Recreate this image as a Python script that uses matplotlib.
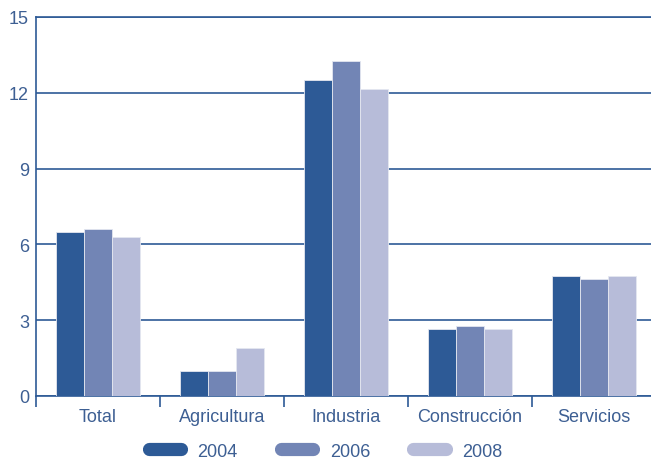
import matplotlib.pyplot as plt
import numpy as np
from matplotlib.lines import Line2D

categories = ['Total', 'Agricultura', 'Industria', 'Construcción', 'Servicios']
years = ['2004', '2006', '2008']
v2004 = [6.5, 1.0, 12.5, 2.65, 4.75]
v2006 = [6.6, 1.0, 13.25, 2.78, 4.65]
v2008 = [6.3, 1.9, 12.15, 2.67, 4.75]
colors = ['#2d5a96', '#7285b5', '#b7bcd9']
text_color = '#3d5f93'

plt.rcParams['font.family'] = ['Liberation Sans', 'DejaVu Sans']

fig = plt.figure(figsize=(6.51, 4.6), dpi=100)
ax = fig.add_axes([36 / 651, 1 - 397 / 460, 620 / 651, 379 / 460])

x = np.arange(len(categories))
w = 0.224
for i, vals in enumerate([v2004, v2006, v2008]):
    ax.bar(x + (i - 1) * w, vals, width=w, color=colors[i], edgecolor='#e4e7f0',
           linewidth=0.6, zorder=3)

ax.set_xlim(-0.5, len(categories) - 0.5)
ax.set_ylim(0, 15)
ax.set_yticks([0, 3, 6, 9, 12, 15])
ax.yaxis.grid(True, color='#2d5a96', linewidth=1.2, zorder=1)
ax.set_axisbelow(True)

ax.set_xticks(x)
ax.set_xticklabels(categories)
ax.set_xticks(np.arange(len(categories) + 1) - 0.5, minor=True)
ax.tick_params(axis='x', which='major', length=0, pad=9, labelsize=13, labelcolor=text_color)
ax.tick_params(axis='x', which='minor', length=8, width=1.2, color='#2d5a96', direction='out')
ax.tick_params(axis='y', length=0, pad=5, labelsize=13, labelcolor=text_color)

for s in ['left', 'bottom', 'top']:
    ax.spines[s].set_color('#2d5a96')
    ax.spines[s].set_linewidth(1.2)
ax.spines['right'].set_visible(False)

handles = [Line2D([0], [0], color=c, lw=9.5, solid_capstyle='round') for c in colors]
leg = fig.legend(handles, years, loc='center', bbox_to_anchor=(0.5, 0.017), ncol=3,
                 frameon=False, fontsize=13, handlelength=1.8, columnspacing=2.4,
                 handletextpad=0.9)
for t in leg.get_texts():
    t.set_color(text_color)

fig.savefig('out.png', dpi=100)
